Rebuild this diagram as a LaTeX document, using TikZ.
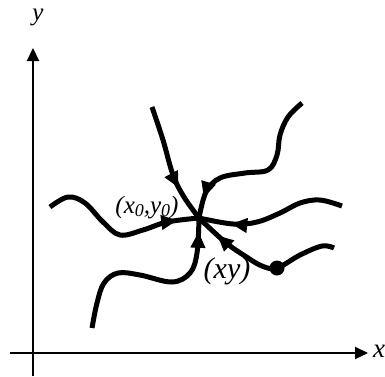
\documentclass[tikz,border=0pt]{standalone}
\usepackage{fontspec}
\setmainfont{Liberation Serif}
\usetikzlibrary{arrows.meta,decorations.markings}
\newcommand{\subz}{\raisebox{-0.25ex}{\fontsize{18}{18}\selectfont 0}}
\tikzset{
  axis/.style={line width=2.2pt,-{Triangle[length=13pt,width=12pt]}},
  traj/.style={line width=5pt,line cap=butt},
  arrowat/.style={postaction={decorate},decoration={markings,mark=at position #1 with {\arrow{Triangle[length=16pt,width=14pt]}}}},
  lbl/.style={inner sep=0pt,font=\itshape}
}
\begin{document}
\begin{tikzpicture}[x=1pt,y=-1pt]
\useasboundingbox (0,0) rectangle (385,376);
% axes
\coordinate (o1) at (33,376);
\coordinate (ytip) at (33,48);
\coordinate (o2) at (10,353);
\coordinate (xtip) at (368,353);
\draw[axis] (o1) -- (ytip);
\draw[axis] (o2) -- (xtip);
\node[lbl,font=\itshape\fontsize{25}{25}\selectfont] (ylab) at (38,17) {y};
\node[lbl,font=\itshape\fontsize{27}{27}\selectfont,anchor=west] (xlab) at (373,351) {x};
\coordinate (c) at (199,218);
% trajectories
\draw[traj,arrowat=0.70] plot[smooth,tension=0.6] coordinates {(152,107) (163,140) (173,175) (184,197) (c)};
\draw[traj,arrowat=0.88] plot[smooth,tension=0.6] coordinates {(302,103) (288,117) (280,135) (277,155) (268,170) (245,173) (220,178) (206,192) (c)};
\draw[traj,arrowat=0.87] plot[smooth,tension=0.6] coordinates {(50,207) (68,197) (85,203) (103,222) (120,235) (143,230) (167,222) (c)};
\draw[traj,arrowat=0.78] plot[smooth,tension=0.6] coordinates {(342,206) (320,200) (300,203) (280,213) (257,222) (233,224) (c)};
\draw[traj,arrowat=0.84] plot[smooth,tension=0.6] coordinates {(334,248) (322,246) (300,255) (277,268) (262,266) (245,256) (225,242) (c)};
\draw[traj,arrowat=0.93] plot[smooth,tension=0.6] coordinates {(92,328) (97,303) (104,283) (118,273) (140,275) (172,282) (190,273) (197,253) (c)};
\fill (277,268) circle[radius=7.5];
% labels
\node[lbl,font=\itshape\fontsize{25}{25}\selectfont] (p0) at (147,208) {(x\subz,y\subz)};
\node[lbl,font=\itshape\fontsize{30}{30}\selectfont] (p) at (227,271) {(xy)};
\end{tikzpicture}
\end{document}
